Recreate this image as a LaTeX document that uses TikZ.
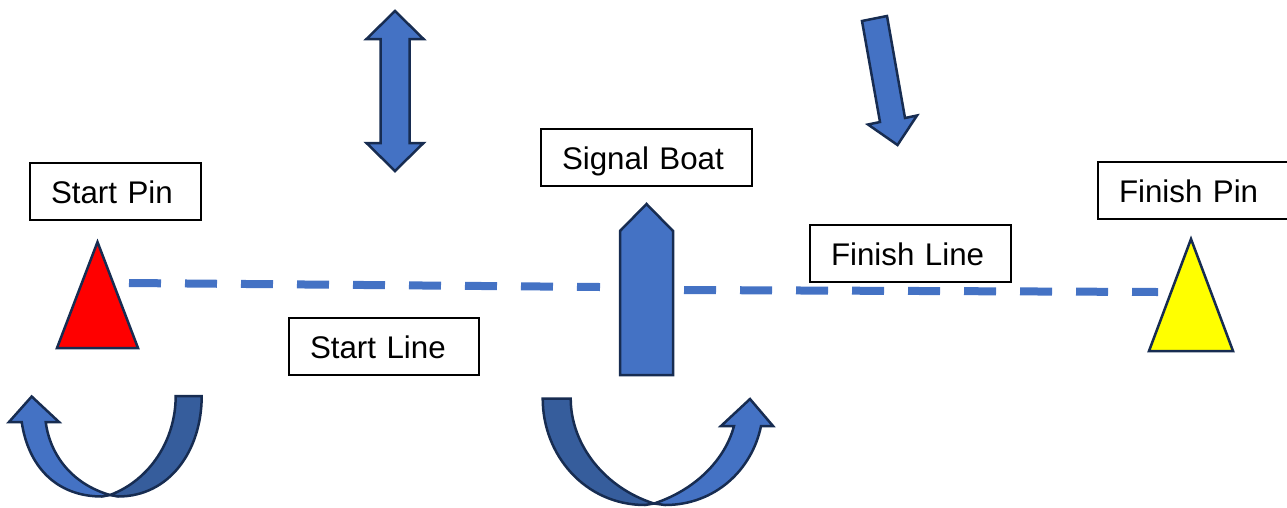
\documentclass[tikz,border=0pt]{standalone}
\usepackage{fontspec}
\setmainfont{Liberation Sans}
\usetikzlibrary{positioning}

\definecolor{shapeblue}{HTML}{4472C4}
\definecolor{shapedark}{HTML}{365D9C}
\definecolor{shapeedge}{HTML}{172C51}
\definecolor{pinred}{HTML}{FF0000}
\definecolor{pinyellow}{HTML}{FFFF00}

\tikzset{
    labelbox/.style={draw=black, line width=2pt, fill=white, anchor=north west, align=left,
        text width=#1, inner xsep=21pt, inner ysep=0pt, minimum height=57pt,
        text height=24pt, text depth=0pt, font=\fontsize{31.3}{36}\selectfont},
    bluearrow/.style={draw=shapeedge, line width=2.5pt, fill=shapeblue, line join=miter},
    darkarrow/.style={bluearrow, fill=shapedark},
    buoy/.style={draw=shapeedge, line width=2.5pt, line join=miter},
    lineofdashes/.style={draw=shapeblue, line width=8pt, dash pattern=on 32pt off 24pt}
}

\begin{document}
\begin{tikzpicture}[x=1pt, y=-1pt]
    \clip (0,0) rectangle (1287,507);
    % Ends of the two lines
    \coordinate (startend) at (129,283);
    \coordinate (boatleft) at (600,287);
    \coordinate (boatright) at (684,290);
    \coordinate (finishend) at (1158,292);
    \draw [lineofdashes] (startend) -- (boatleft); % Start line
    \draw [lineofdashes] (boatright) -- (finishend); % Finish line

    % Labels
    \node [labelbox=129pt] (startpin) at (29,162) {Start Pin};
    \node [labelbox=148pt] (startline) at (288,317) {Start Line};
    \node [labelbox=169pt] (signalboat) at (540,128) {Signal Boat};
    \node [labelbox=159pt] (finishline) at (809,224) {Finish Line};
    \node [labelbox=170pt] (finishpin) at (1097,161) {Finish Pin};

    % Pins
    \draw [buoy, fill=pinred] (97.5,242) -- (138,348) -- (57,348) -- cycle;
    \draw [buoy, fill=pinyellow] (1191,239) -- (1233,351) -- (1149,351) -- cycle;

    % Signal boat
    \draw [bluearrow] (620,231) -- (646.5,204) -- (673,231) -- (673,375) -- (620,375) -- cycle;

    % Up and down arrow
    \draw [bluearrow] (395,11) -- (423.5,39) -- (409.5,39) -- (409.5,143) -- (423.5,143)
        -- (395,171) -- (366.5,143) -- (380.5,143) -- (380.5,39) -- (366.5,39) -- cycle;
    % Down arrow
    \draw [bluearrow] (862,21) -- (887,16) -- (905,118) -- (917,115.5) -- (897.5,145)
        -- (868,124.5) -- (880,122) -- cycle;

    % Left turn
    \draw [darkarrow] (175.7,396) -- (201.7,396)
        .. controls (201.7,450) and (170,496.5) .. (118,496.5) -- (110,495)
        .. controls (150,480) and (175.7,440) .. (175.7,396) -- cycle;
    \draw [bluearrow] (110,495) -- (102,496.5)
        .. controls (55,496.5) and (28,465) .. (21.7,422) -- (9,422) -- (31.7,396.5) -- (59,422) -- (45.7,422)
        .. controls (50,455) and (72,484) .. (110,495) -- cycle;

    % Right turn
    \draw [darkarrow] (542.7,398.5) -- (570.7,398.5)
        .. controls (570.7,445) and (605,488) .. (654,503.5) -- (645,505)
        .. controls (585,505) and (542.7,455) .. (542.7,398.5) -- cycle;
    \draw [bluearrow] (654,503.5) -- (665,505)
        .. controls (715,505) and (752,470) .. (761,426) -- (773,426) -- (750,399) -- (721,426) -- (734,426)
        .. controls (725,460) and (695,490) .. (654,503.5) -- cycle;
\end{tikzpicture}
\end{document}
